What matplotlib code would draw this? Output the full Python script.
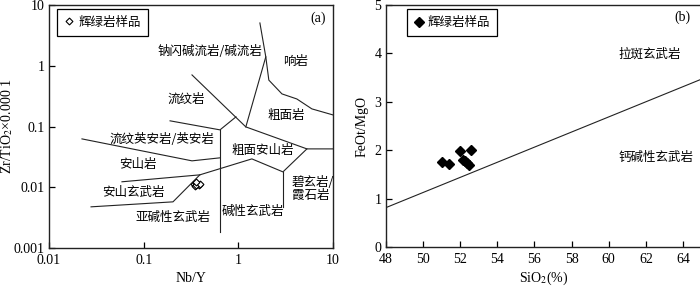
import matplotlib
matplotlib.use("Agg")
import matplotlib.pyplot as plt
from matplotlib import ticker

plt.rcParams["font.family"] = ["Liberation Serif", "Noto Sans CJK SC"]
plt.rcParams["mathtext.fontset"] = "stix"

CJK = ["Noto Sans CJK SC", "DejaVu Sans"]

# (a) Winchester & Floyd Zr/TiO2 - Nb/Y boundaries
line_phon_x = [1.69, 1.95, 2.10, 2.89, 4.15, 5.98, 10]
line_phon_y = [5.06, 1.40, 0.58, 0.344, 0.284, 0.195, 0.155]
line_rhy_tra_x = [1.20, 1.95]
line_rhy_tra_y = [0.0985, 1.40]
line_com_x = [0.324, 1.20, 5.30, 10]
line_com_y = [0.706, 0.0985, 0.0428, 0.0428]
line_rd_x = [0.19, 0.64, 0.944]
line_rd_y = [0.124, 0.088, 0.144]
line_vert1_x = [0.64, 0.64]
line_vert1_y = [0.088, 0.00185]
line_and_x = [0.0223, 0.324, 0.64]
line_and_y = [0.0625, 0.0272, 0.0305]
line_ab_x = [0.059, 0.392]
line_ab_y = [0.0123, 0.016]
line_sub_x = [0.0278, 0.204, 0.392, 1.39, 2.96, 5.30]
line_sub_y = [0.00476, 0.00575, 0.016, 0.0293, 0.0179, 0.0428]
line_vert2_x = [2.96, 2.96]
line_vert2_y = [0.0179, 0.00476]

samples_a_nby = [0.34, 0.36, 0.38, 0.35, 0.37, 0.36, 0.39, 0.355]
samples_a_zrti = [0.0112, 0.0118, 0.0110, 0.0105, 0.0113, 0.0108, 0.0115, 0.0121]

labels_a = ["钠闪碱流岩/碱流岩", "响岩", "流纹岩", "粗面岩", "流纹英安岩/英安岩",
            "粗面安山岩", "安山岩", "安山玄武岩", "亚碱性玄武岩", "碱性玄武岩"]
labels_a_x = [0.50, 4.06, 0.28, 3.18, 0.156, 1.82, 0.087, 0.077, 0.204, 1.43]
labels_a_y = [1.69, 1.2, 0.284, 0.149, 0.060, 0.0397, 0.0233, 0.0081, 0.00314, 0.00394]

# (b) FeOt/MgO - SiO2 (Miyashiro)
line_b_sio2 = [48, 65]
line_b_ratio = [0.81, 3.47]
samples_b_sio2 = [51.04, 51.41, 52.0, 52.6, 52.27, 52.38, 52.17, 52.49]
samples_b_ratio = [1.76, 1.72, 1.99, 2.01, 1.78, 1.74, 1.80, 1.70]

fig = plt.figure(figsize=(7, 2.87), dpi=100)

# ---- panel a ----
ax1 = fig.add_axes([49 / 700, 39 / 287, 284 / 700, 243 / 287])
ax1.set_xscale("log")
ax1.set_yscale("log")
ax1.set_xlim(0.01, 10)
ax1.set_ylim(0.001, 10)

lw = 0.8
for xs, ys in [(line_phon_x, line_phon_y), (line_rhy_tra_x, line_rhy_tra_y),
               (line_com_x, line_com_y), (line_rd_x, line_rd_y),
               (line_vert1_x, line_vert1_y), (line_and_x, line_and_y),
               (line_ab_x, line_ab_y), (line_sub_x, line_sub_y),
               (line_vert2_x, line_vert2_y)]:
    ax1.plot(xs, ys, color="#222222", lw=lw)

ax1.plot(samples_a_nby, samples_a_zrti, ls="none", marker="D", ms=3.5,
         mfc="white", mec="black", mew=0.8, label="辉绿岩样品")

for t, x, y in zip(labels_a, labels_a_x, labels_a_y):
    ax1.text(x, y, t, family=CJK, fontsize=9, ha="center", va="center")
ax1.text(3.68, 0.0094, "碧玄岩/\n霞石岩", family=CJK, fontsize=9,
         ha="left", va="center", linespacing=1.05)
ax1.text(0.975, 0.947, "(a)", transform=ax1.transAxes, fontsize=10,
         ha="right", va="center")

fmt = ticker.FuncFormatter(lambda v, p: f"{v:g}")
ax1.xaxis.set_major_formatter(fmt)
ax1.yaxis.set_major_formatter(fmt)
ax1.xaxis.set_minor_locator(ticker.NullLocator())
ax1.yaxis.set_minor_locator(ticker.NullLocator())
ax1.set_xticks([0.01, 0.1, 1, 10])
ax1.set_yticks([0.001, 0.01, 0.1, 1, 10])
ax1.set_xlabel("Nb/Y", fontsize=10, labelpad=4)
ax1.set_ylabel("Zr/TiO$_2$×0.000 1", fontsize=10)
ax1.yaxis.set_label_coords(-0.118, 0.5)

leg1 = ax1.legend(loc="upper left", bbox_to_anchor=(0.028, 0.984),
                  borderaxespad=0, prop={"family": CJK, "size": 9},
                  handlelength=0.8, handletextpad=0.4, borderpad=0.55,
                  fancybox=False, edgecolor="black", framealpha=1)
leg1.get_frame().set_linewidth(0.9)

# ---- panel b ----
ax2 = fig.add_axes([385.5 / 700, 40 / 287, 316.2 / 700, 242 / 287])
ax2.set_xlim(48, 65)
ax2.set_ylim(0, 5)
ax2.plot(line_b_sio2, line_b_ratio, color="#222222", lw=lw)
ax2.plot(samples_b_sio2, samples_b_ratio, ls="none", marker="D", ms=5,
         color="black", label="辉绿岩样品")
ax2.text(60.55, 3.98, "拉斑玄武岩", family=CJK, fontsize=9, ha="left", va="center")
ax2.text(60.55, 1.84, "钙碱性玄武岩", family=CJK, fontsize=9, ha="left", va="center")
ax2.text(64.4, 4.74, "(b)", fontsize=10, ha="right", va="center")
ax2.set_xticks(range(48, 65, 2))
ax2.set_yticks(range(0, 6))
ax2.set_xlabel("SiO$_2$(%)", fontsize=10, labelpad=3)
ax2.set_ylabel("FeOt/MgO", fontsize=10, labelpad=4)

leg2 = ax2.legend(loc="upper left", bbox_to_anchor=(0.068, 0.983),
                  borderaxespad=0, prop={"family": CJK, "size": 9},
                  handlelength=0.8, handletextpad=0.3, borderpad=0.55,
                  fancybox=False, edgecolor="black", framealpha=1)
leg2.get_frame().set_linewidth(0.9)

for ax in (ax1, ax2):
    ax.tick_params(direction="in", length=4, width=0.9, labelsize=10,
                   top=False, right=False)
    ax.tick_params(axis="x", pad=4)
    ax.tick_params(axis="y", pad=3)
    for s in ax.spines.values():
        s.set_linewidth(1.0)
        s.set_color("#222222")

fig.savefig("out.png", dpi=100)
